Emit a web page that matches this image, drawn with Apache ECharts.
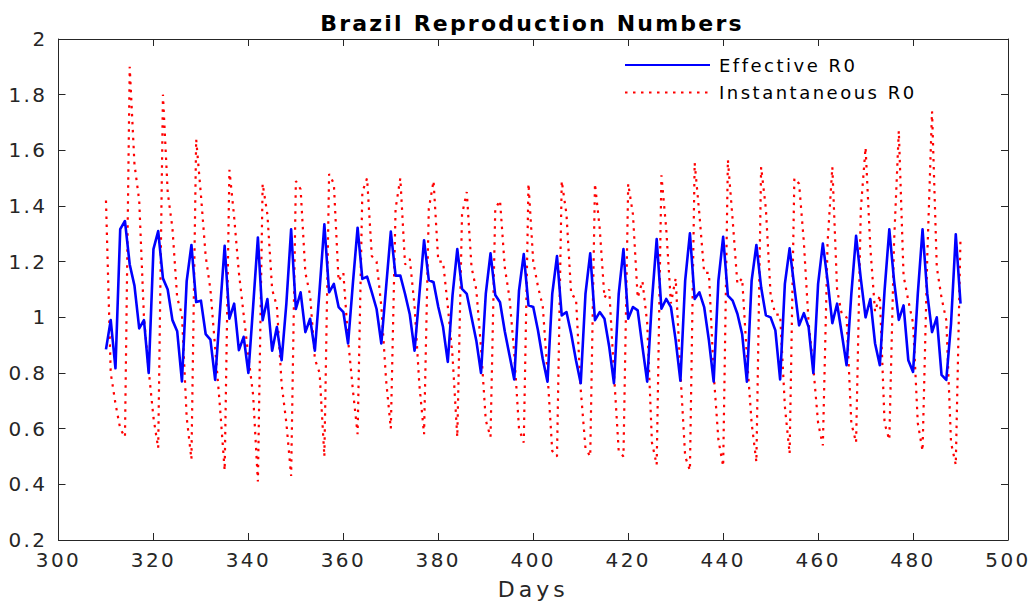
<!DOCTYPE html>
<html>
<head>
<meta charset="utf-8">
<script src="https://cdn.jsdelivr.net/npm/echarts@6/dist/echarts.min.js"></script>
<style>
  html, body { margin: 0; padding: 0; background: #fff; }
  #chart { width: 1034px; height: 606px; }
</style>
</head>
<body>
<div id="chart"></div>
<script>
var firstDay = 310;

var effectiveR0 = [
  0.885, 0.99, 0.817, 1.317, 1.346, 1.19, 1.114, 0.96, 0.99, 0.80,
  1.245, 1.31, 1.14, 1.10, 0.99, 0.95, 0.77, 1.13, 1.26, 1.055,
  1.06, 0.94, 0.92, 0.775, 1.02, 1.257, 0.995, 1.049, 0.882, 0.93,
  0.80, 1.04, 1.287, 0.99, 1.066, 0.88, 0.965, 0.846, 1.05, 1.316,
  1.03, 1.09, 0.947, 0.995, 0.88, 1.10, 1.334, 1.09, 1.12, 1.037,
  1.019, 0.906, 1.12, 1.322, 1.138, 1.146, 1.09, 1.03, 0.906, 1.108,
  1.308, 1.15, 1.15, 1.084, 1.01, 0.88, 1.08, 1.277, 1.134, 1.126,
  1.037, 0.965, 0.84, 1.08, 1.245, 1.102, 1.084, 1.0, 0.917, 0.80,
  1.084, 1.23, 1.08, 1.054, 0.95, 0.864, 0.777, 1.096, 1.227, 1.043,
  1.037, 0.953, 0.85, 0.769, 1.084, 1.22, 1.007, 1.019, 0.94, 0.846,
  0.763, 1.084, 1.23, 0.99, 1.019, 0.995, 0.894, 0.763, 1.084, 1.245,
  0.995, 1.037, 1.025, 0.894, 0.769, 1.06, 1.281, 1.031, 1.066, 1.037,
  0.917, 0.772, 1.132, 1.302, 1.066, 1.09, 1.037, 0.917, 0.769, 1.132,
  1.289, 1.078, 1.06, 1.013, 0.94, 0.769, 1.132, 1.26, 1.108, 1.007,
  1.0, 0.953, 0.777, 1.12, 1.248, 1.108, 0.971, 1.015, 0.965, 0.80,
  1.12, 1.265, 1.132, 0.979, 1.049, 0.94, 0.828, 1.084, 1.293, 1.138,
  1.0, 1.066, 0.906, 0.828, 1.096, 1.316, 1.132, 0.991, 1.043, 0.846,
  0.804, 1.084, 1.316, 1.084, 0.947, 1.0, 0.793, 0.775, 0.977, 1.298,
  1.049
];

var instantaneousR0 = [
  1.42, 0.80, 0.69, 0.60, 0.57, 1.90, 1.55, 1.42, 1.00, 0.81,
  0.64, 0.53, 1.80, 1.45, 1.32, 1.07, 1.01, 0.64, 0.49, 1.64,
  1.44, 1.22, 1.10, 0.89, 0.68, 0.45, 1.53, 1.36, 1.16, 1.01,
  0.86, 0.72, 0.41, 1.48, 1.37, 1.10, 1.04, 0.76, 0.62, 0.43,
  1.49, 1.46, 1.16, 1.08, 0.85, 0.80, 0.50, 1.515, 1.48, 1.13,
  1.16, 0.92, 0.74, 0.58, 1.45, 1.50, 1.22, 1.20, 1.04, 0.775,
  0.60, 1.39, 1.50, 1.19, 1.21, 1.04, 0.76, 0.58, 1.39, 1.49,
  1.20, 1.20, 1.04, 0.86, 0.57, 1.37, 1.45, 1.18, 1.10, 0.89,
  0.63, 0.57, 1.39, 1.42, 1.18, 1.07, 0.87, 0.60, 0.55, 1.48,
  1.20, 1.11, 1.04, 0.80, 0.52, 0.50, 1.49, 1.37, 1.08, 1.07,
  0.74, 0.53, 0.50, 1.48, 1.32, 1.07, 1.10, 0.80, 0.52, 0.50,
  1.48, 1.37, 1.07, 1.13, 0.98, 0.55, 0.47, 1.51, 1.32, 1.05,
  1.14, 0.80, 0.50, 0.45, 1.555, 1.37, 1.16, 1.16, 0.80, 0.56,
  0.465, 1.566, 1.35, 1.12, 1.14, 0.86, 0.62, 0.48, 1.54, 1.39,
  1.08, 1.01, 1.01, 0.68, 0.51, 1.50, 1.48, 1.27, 0.98, 0.82,
  0.62, 0.54, 1.27, 1.54, 1.10, 1.01, 1.00, 0.62, 0.55, 1.39,
  1.61, 1.25, 1.02, 1.08, 0.62, 0.56, 1.27, 1.67, 1.15, 1.06,
  0.98, 0.62, 0.52, 1.22, 1.74, 1.18, 1.07, 0.99, 0.55, 0.47,
  1.29
];

var xTicks = { min: 300, max: 500, step: 20 };
var yTicks = { min: 0.2, max: 2, step: 0.2 };
var titleText = 'Brazil Reproduction Numbers';
var seriesNames = ['Effective R0', 'Instantaneous R0'];

function pairs(values) {
  var out = [];
  for (var i = 0; i < values.length; i++) out.push([firstDay + i, values[i]]);
  return out;
}

var axisColor = '#262626';
var font = '"DejaVu Sans", Verdana, sans-serif';

var myChart = echarts.init(document.getElementById('chart'), null, { renderer: 'svg' });

var option = {
  backgroundColor: '#ffffff',
  animation: false,
  title: {
    text: titleText,
    left: 527,
    textAlign: 'center',
    top: 7,
    textStyle: { fontFamily: font, fontSize: 22, fontWeight: 'bold', color: '#000' }
  },
  legend: {
    left: 619,
    top: 51,
    orient: 'vertical',
    itemWidth: 85,
    itemHeight: 14,
    itemGap: 9.5,
    itemStyle: { opacity: 0 },
    textStyle: { fontFamily: font, fontSize: 18, color: '#000', padding: [0, 0, 0, 4] },
    data: seriesNames
  },
  grid: { left: 58.5, right: 26, top: 39, bottom: 66, containLabel: false },
  xAxis: [{
    type: 'value',
    min: xTicks.min, max: xTicks.max, interval: xTicks.step,
    name: 'Days',
    nameLocation: 'middle',
    nameGap: 38,
    nameTextStyle: { fontFamily: font, fontSize: 22, color: axisColor },
    axisLine: { lineStyle: { color: axisColor, width: 1 } },
    axisTick: { inside: true, length: 7, lineStyle: { color: axisColor } },
    axisLabel: { fontFamily: font, fontSize: 20, color: axisColor, margin: 10 },
    splitLine: { show: false }
  }, {
    type: 'value', position: 'top',
    min: xTicks.min, max: xTicks.max, interval: xTicks.step,
    axisLine: { show: true, onZero: false, lineStyle: { color: axisColor, width: 1 } },
    axisTick: { inside: true, length: 7, lineStyle: { color: axisColor } },
    axisLabel: { show: false },
    splitLine: { show: false }
  }],
  yAxis: [{
    type: 'value',
    min: yTicks.min, max: yTicks.max, interval: yTicks.step,
    axisLine: { show: true, lineStyle: { color: axisColor, width: 1 } },
    axisTick: { show: true, inside: true, length: 7, lineStyle: { color: axisColor } },
    axisLabel: {
      fontFamily: font, fontSize: 20, color: axisColor, margin: 11,
      formatter: function (v) { return String(+v.toFixed(1)); }
    },
    splitLine: { show: false }
  }, {
    type: 'value', position: 'right',
    min: yTicks.min, max: yTicks.max, interval: yTicks.step,
    axisLine: { show: true, onZero: false, lineStyle: { color: axisColor, width: 1 } },
    axisTick: { show: true, inside: true, length: 7, lineStyle: { color: axisColor } },
    axisLabel: { show: false },
    splitLine: { show: false }
  }],
  series: [{
    name: seriesNames[0],
    type: 'line',
    data: pairs(effectiveR0),
    showSymbol: false,
    symbol: 'none',
    lineStyle: { color: '#0000ff', width: 2.6, join: 'round' },
    itemStyle: { color: '#0000ff' },
    z: 3
  }, {
    name: seriesNames[1],
    type: 'line',
    data: pairs(instantaneousR0),
    showSymbol: false,
    symbol: 'none',
    lineStyle: { color: '#ff0000', width: 2.2, type: [2.5, 5.5], cap: 'butt' },
    itemStyle: { color: '#ff0000' },
    z: 2
  }]
};

// the source picture is stretched sideways, so widen the text a bit
function widenText() {
  var texts = document.querySelectorAll('#chart text');
  for (var i = 0; i < texts.length; i++) {
    var t = texts[i].textContent;
    var sp = '2.4px';
    if (t === titleText) sp = '2.2px';
    else if (t === 'Days') sp = '4px';
    else if (seriesNames.indexOf(t) >= 0) sp = '2.5px';
    texts[i].style.letterSpacing = sp;
  }
}

myChart.on('finished', widenText);
myChart.setOption(option);
setTimeout(widenText, 50);
</script>
</body>
</html>
